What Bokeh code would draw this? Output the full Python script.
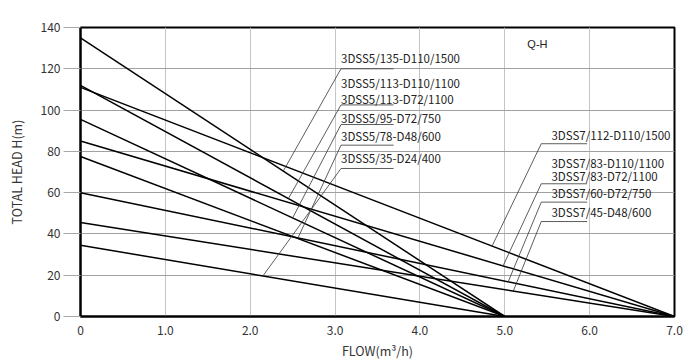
from bokeh.plotting import figure
from bokeh.models import Range1d, FixedTicker, Label
from bokeh.core.properties import value
from bokeh.embed import file_html
from bokeh.resources import INLINE

# ---- data ----
x_ticks = [0, 1, 2, 3, 4, 5, 6, 7]
x_tick_labels = ["0", "1.0", "2.0", "3.0", "4.0", "5.0", "6.0", "7.0"]
y_ticks = [0, 20, 40, 60, 80, 100, 120, 140]

# 3DSS5 series: straight Q-H lines from (0, head) to (5.0, 0)
s5_heads = [135, 112, 95.5, 77.5, 34.5]
s5_qmax = 5.0
s5_labels = [["3DSS5/135-D110/1500"],
             ["3DSS5/113-D110/1100", "3DSS5/113-D72/1100"],
             ["3DSS5/95-D72/750"],
             ["3DSS5/78-D48/600"],
             ["3DSS5/35-D24/400"]]
# 3DSS7 series: from (0, head) to (7.0, 0)
s7_heads = [111, 85, 60, 45.5]
s7_qmax = 7.0
s7_labels = [["3DSS7/112-D110/1500"],
             ["3DSS7/83-D110/1100", "3DSS7/83-D72/1100"],
             ["3DSS7/60-D72/750"],
             ["3DSS7/45-D48/600"]]

# ---- layout of annotations (positions only) ----
s5_text_x = 3.07
s5_ul_x = (3.07, 3.69)
s5_ul_y = [120.0, 102.5, 93.0, 83.0, 71.7]
s5_text_y = [[125.0], [112.9, 105.6], [96.4], [87.2], [76.6]]
s5_leader_q = [2.39, 2.45, 2.50, 2.56, 2.15]

s7_text_x = 5.55
s7_ul_x = (5.43, 5.97)
s7_ul_y = [83.7, 64.3, 55.4, 46.0]
s7_text_y = [[87.7], [74.6, 68.3], [59.6], [50.4]]
s7_leader_q = [4.85, 4.98, 5.04, 5.10]

LABEL_FONT = "Noto Sans CJK SC"

p = figure(width=700, height=362, x_range=Range1d(0, 7), y_range=Range1d(0, 140),
           output_backend="svg", toolbar_location=None,
           min_border_left=80, min_border_right=26, min_border_top=27, min_border_bottom=46)
p.background_fill_color = "white"
p.border_fill_color = "white"
p.outline_line_color = "black"
p.outline_line_width = 2

p.xaxis.ticker = FixedTicker(ticks=x_ticks)
p.xaxis.major_label_overrides = {t: l for t, l in zip(x_ticks, x_tick_labels)}
p.xaxis.major_tick_out = 0
p.xaxis.major_tick_in = 0
p.xaxis.minor_tick_line_color = None
p.xaxis.axis_line_color = "black"
p.xaxis.axis_line_width = 2
p.xaxis.major_label_standoff = 9
p.xaxis.axis_label = "FLOW(m³/h)"
p.xaxis.axis_label_standoff = 3

p.yaxis.ticker = FixedTicker(ticks=y_ticks)
p.yaxis.major_tick_out = 17
p.yaxis.major_tick_in = 0
p.yaxis.major_tick_line_color = "#a8a8a8"
p.yaxis.minor_tick_line_color = None
p.yaxis.axis_line_color = "black"
p.yaxis.axis_line_width = 2
p.yaxis.major_label_standoff = 3
p.yaxis.axis_label = "TOTAL HEAD H(m)"
p.yaxis.axis_label_standoff = 12

for ax in (p.xaxis[0], p.yaxis[0]):
    ax.major_label_text_font = LABEL_FONT
    ax.major_label_text_font_size = "12px"
    ax.major_label_text_color = "#333333"
    ax.axis_label_text_font = LABEL_FONT
    ax.axis_label_text_font_size = "12.5px"
    ax.axis_label_text_font_style = "normal"
    ax.axis_label_text_color = "#333333"

p.xgrid.ticker = FixedTicker(ticks=x_ticks)
p.xgrid.grid_line_color = "#c8c4c0"
p.ygrid.ticker = FixedTicker(ticks=y_ticks)
p.ygrid.grid_line_color = "#a0a0a0"

for heads, qmax in ((s5_heads, s5_qmax), (s7_heads, s7_qmax)):
    for h in heads:
        p.line([0, qmax], [h, 0], line_color="black", line_width=1.5)

def annotate(heads, qmax, labels, tx, ulx, uly, tys, lq):
    for h, labs, uy, ty_list, q in zip(heads, labels, uly, tys, lq):
        for lab, ty in zip(labs, ty_list):
            p.text(x=[tx], y=[ty], text=[lab], text_font=value(LABEL_FONT),
                   text_font_size="11.5px", text_color="#222222",
                   text_baseline="middle", text_align="left")
        p.line([ulx[0], ulx[1]], [uy, uy], line_color="#333333", line_width=0.8)
        hq = h * (1 - q / qmax)
        p.line([ulx[0], q], [uy, hq], line_color="#333333", line_width=0.8)

annotate(s5_heads, s5_qmax, s5_labels, s5_text_x, s5_ul_x, s5_ul_y, s5_text_y, s5_leader_q)
annotate(s7_heads, s7_qmax, s7_labels, s7_text_x, s7_ul_x, s7_ul_y, s7_text_y, s7_leader_q)

p.add_layout(Label(x=5.385, y=131.8, text="Q-H", text_font="Liberation Sans",
                   text_font_size="11px", text_color="#222222",
                   text_align="center", text_baseline="middle"))

open("out.html", "w").write(file_html(p, INLINE))
